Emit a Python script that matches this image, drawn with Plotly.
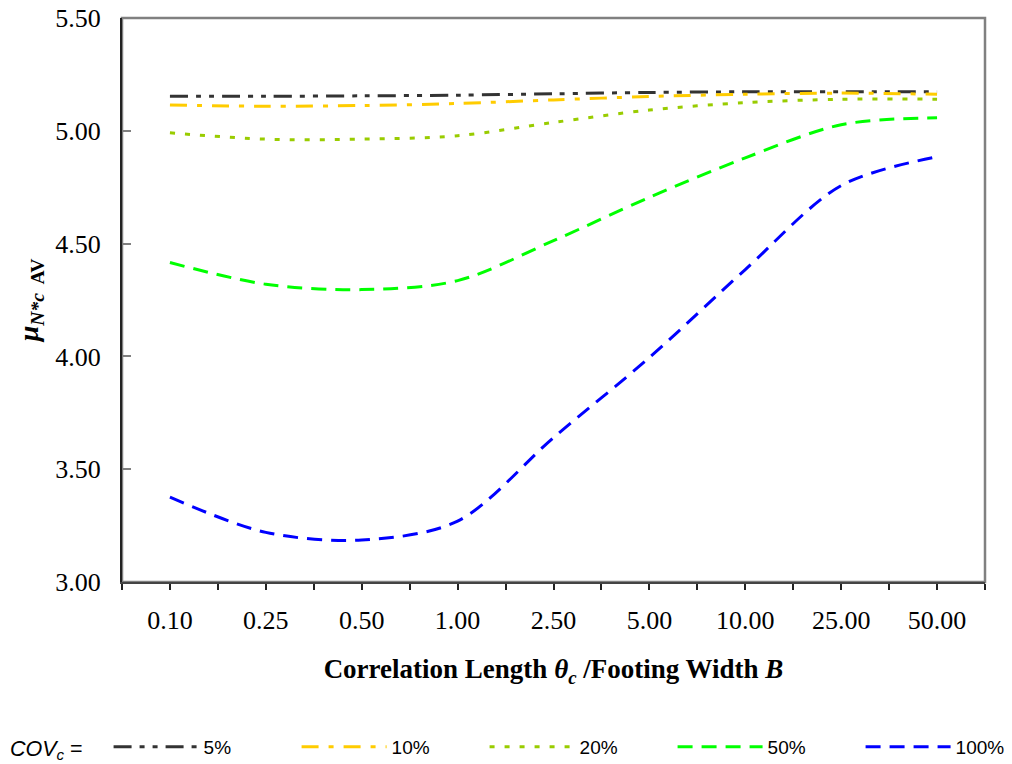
import plotly.graph_objects as go

categories = ["0.10", "0.25", "0.50", "1.00", "2.50", "5.00", "10.00", "25.00", "50.00"]
series_names = ["5%", "10%", "20%", "50%", "100%"]
cov5 = [5.153, 5.153, 5.155, 5.158, 5.164, 5.170, 5.173, 5.173, 5.173]
cov10 = [5.114, 5.109, 5.112, 5.121, 5.137, 5.152, 5.162, 5.167, 5.162]
cov20 = [4.991, 4.963, 4.963, 4.978, 5.037, 5.092, 5.125, 5.140, 5.140]
cov50 = [4.416, 4.320, 4.296, 4.336, 4.513, 4.705, 4.880, 5.027, 5.058]
cov100 = [3.376, 3.220, 3.186, 3.270, 3.640, 3.995, 4.385, 4.757, 4.885]
y_ticks = [3.00, 3.50, 4.00, 4.50, 5.00, 5.50]

values = [cov5, cov10, cov20, cov50, cov100]
colors = ["#333333", "#FFCC00", "#99CC00", "#00FF00", "#0000FF"]
dashes = ["18px,8px,5px,8px,5px,8px", "17px,10px,5px,10px", "5px,10px", "15px,9px", "15px,9px"]

# category slots: each labelled category sits on an odd slot of an 18-slot axis
xpos = [2 * i + 1 for i in range(len(categories))]
n_slots = 2 * len(categories)
minor_slots = list(range(0, n_slots + 1, 2))

serif = "Liberation Serif"
sans = "Liberation Sans"

W, H = 1012, 764
ML, MR, MT, MB = 122, 27, 18, 182
PW, PH = W - ML - MR, H - MT - MB

fig = go.Figure()
for i, (name, vals) in enumerate(zip(series_names, values)):
    tr = dict(
        x=xpos, y=vals, name=name, mode="lines",
        line=dict(color=colors[i], width=3, dash=dashes[i], shape="spline", smoothing=0.9),
        hoverinfo="x+y",
    )
    if i == len(series_names) - 1:
        tr["legendwidth"] = 60
    fig.add_trace(go.Scatter(**tr))

fig.update_layout(
    width=W, height=H,
    margin=dict(l=ML, r=MR, t=MT, b=MB, autoexpand=False),
    paper_bgcolor="white", plot_bgcolor="white",
    showlegend=True,
    legend=dict(
        orientation="h", x=(8 - ML) / PW, xanchor="left",
        y=(PH + MT - 747) / PH, yanchor="middle",
        font=dict(family=sans, size=19, color="black"),
        title=dict(text="<i>COV</i><sub><i>c</i></sub> =&nbsp;&nbsp;&nbsp;",
                   side="left", font=dict(family=sans, size=21.5, color="black")),
        itemwidth=85, entrywidth=88, entrywidthmode="pixels",
        bgcolor="rgba(0,0,0,0)", itemclick=False,
    ),
    xaxis=dict(
        range=[0, n_slots], tickmode="array", tickvals=xpos, ticktext=categories,
        ticks="outside", ticklen=6, tickwidth=1.5, tickcolor="#222222",
        minor=dict(tickmode="array", tickvals=minor_slots, ticks="outside", ticklen=6,
                   tickwidth=1.5, tickcolor="#222222", showgrid=False),
        showline=True, linecolor="#444444", linewidth=2, showgrid=False, zeroline=False,
        tickfont=dict(family=serif, size=26, color="black"), ticklabelstandoff=8,
        ticklabeloverflow="allow",
        title=dict(text="<b>Correlation Length <i>θ</i><sub><i>c</i></sub> /Footing Width <i>B</i></b>",
                   font=dict(family=serif, size=27, color="black"), standoff=25),
    ),
    xaxis2=dict(
        overlaying="x", matches="x", anchor="y", side="bottom",
        range=[0, n_slots], tickmode="array", tickvals=xpos,
        ticks="inside", ticklen=6, tickwidth=1.5, tickcolor="#222222",
        minor=dict(tickmode="array", tickvals=minor_slots, ticks="inside", ticklen=6,
                   tickwidth=1.5, tickcolor="#222222", showgrid=False),
        showticklabels=False, showline=False, showgrid=False, zeroline=False,
    ),
    yaxis=dict(
        range=[3.0, 5.5], tickmode="array", tickvals=y_ticks,
        ticktext=[f"{v:.2f}" for v in y_ticks],
        ticks="inside", ticklen=9, tickwidth=2, tickcolor="#808080",
        showline=True, linecolor="#222222", linewidth=2, showgrid=False, zeroline=False,
        tickfont=dict(family=serif, size=26, color="black"), ticklabelstandoff=14,
        ticklabeloverflow="allow",
        title=dict(text="<b><i>μ</i></b><sub><b><i>N*c</i>  AV</b></sub>",
                   font=dict(family=serif, size=28, color="black"), standoff=8),
    ),
    shapes=[dict(type="rect", xref="paper", yref="paper", x0=0, x1=1, y0=0, y1=1,
                 line=dict(color="#808080", width=2.5), layer="below")],
)

fig.write_html("out.html", config={"displayModeBar": False},
               post_script="document.body.style.margin='0px';")
